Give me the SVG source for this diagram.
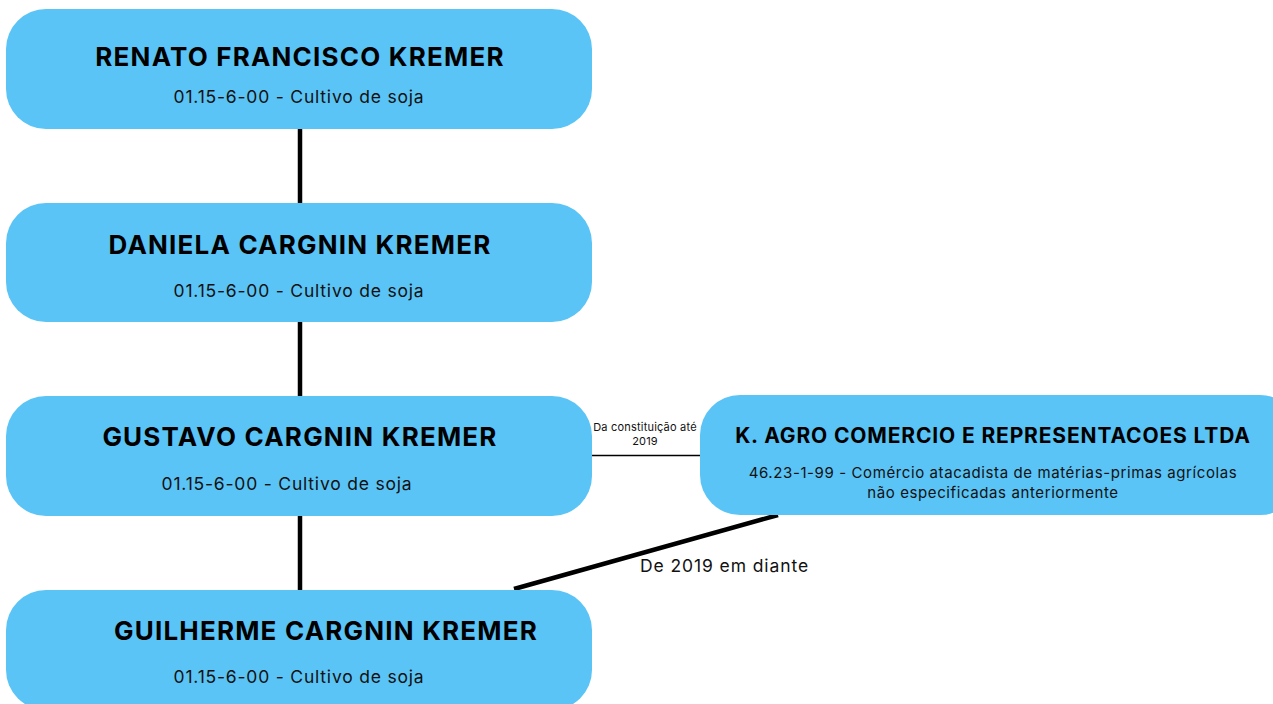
<svg xmlns="http://www.w3.org/2000/svg" width="1273" height="704" viewBox="0 0 1273 704">
<style>
.box{fill:#5AC4F6;}
.t{font-family:Inter,"Noto Sans",sans-serif;font-weight:700;font-size:26px;letter-spacing:1.2px;fill:#000;text-anchor:middle;}
.t5{font-family:Inter,"Noto Sans",sans-serif;font-weight:700;font-size:21px;letter-spacing:0.85px;fill:#000;text-anchor:middle;}
.s{font-family:Inter,"Noto Sans",sans-serif;font-size:17.5px;letter-spacing:0.8px;fill:#111;text-anchor:middle;}
.s5{font-family:Inter,"Noto Sans",sans-serif;font-size:15px;letter-spacing:0.6px;fill:#111;text-anchor:middle;}
.lbl{font-family:Inter,"Noto Sans",sans-serif;font-size:11px;letter-spacing:0.2px;fill:#111;text-anchor:middle;}
.lbl2{font-family:Inter,"Noto Sans",sans-serif;font-size:17.5px;letter-spacing:0.9px;fill:#111;}
.thick{stroke:#000;stroke-width:4.5;fill:none;}
.thin{stroke:#000;stroke-width:1.5;fill:none;}
</style>
<rect width="1273" height="704" fill="#fff"/>
<g id="connectors">
<line class="thick" x1="300" y1="129" x2="300" y2="203"/>
<line class="thick" x1="300" y1="322" x2="300" y2="396"/>
<line class="thick" x1="300" y1="516" x2="300" y2="590"/>
<line class="thin" x1="592" y1="455.5" x2="700" y2="455.5"/>
<text class="lbl" x="645" y="431">Da constituição até</text>
<text class="lbl" x="645" y="445">2019</text>
<line class="thick" x1="778" y1="515" x2="514" y2="589"/>
<text class="lbl2" x="640" y="572">De 2019 em diante</text>
</g>
<g id="node-renato">
<rect class="box" x="6" y="9" width="586" height="120" rx="40"/>
<text class="t" x="300" y="66">RENATO FRANCISCO KREMER</text>
<text class="s" x="299" y="103">01.15-6-00 - Cultivo de soja</text>
</g>
<g id="node-daniela">
<rect class="box" x="6" y="203" width="586" height="119" rx="40"/>
<text class="t" x="300" y="254">DANIELA CARGNIN KREMER</text>
<text class="s" x="299" y="297">01.15-6-00 - Cultivo de soja</text>
</g>
<g id="node-gustavo">
<rect class="box" x="6" y="396" width="586" height="120" rx="40"/>
<text class="t" x="300" y="446">GUSTAVO CARGNIN KREMER</text>
<text class="s" x="287" y="490">01.15-6-00 - Cultivo de soja</text>
</g>
<g id="node-guilherme">
<rect class="box" x="6" y="590" width="586" height="120" rx="40"/>
<text class="t" x="326" y="640">GUILHERME CARGNIN KREMER</text>
<text class="s" x="299" y="683">01.15-6-00 - Cultivo de soja</text>
</g>
<g id="node-kagro">
<rect class="box" x="700" y="395" width="600" height="120" rx="40"/>
<text class="t5" x="993" y="443">K. AGRO COMERCIO E REPRESENTACOES LTDA</text>
<text class="s5" x="993" y="478">46.23-1-99 - Comércio atacadista de matérias-primas agrícolas</text>
<text class="s5" x="993" y="498">não especificadas anteriormente</text>
</g>
</svg>
